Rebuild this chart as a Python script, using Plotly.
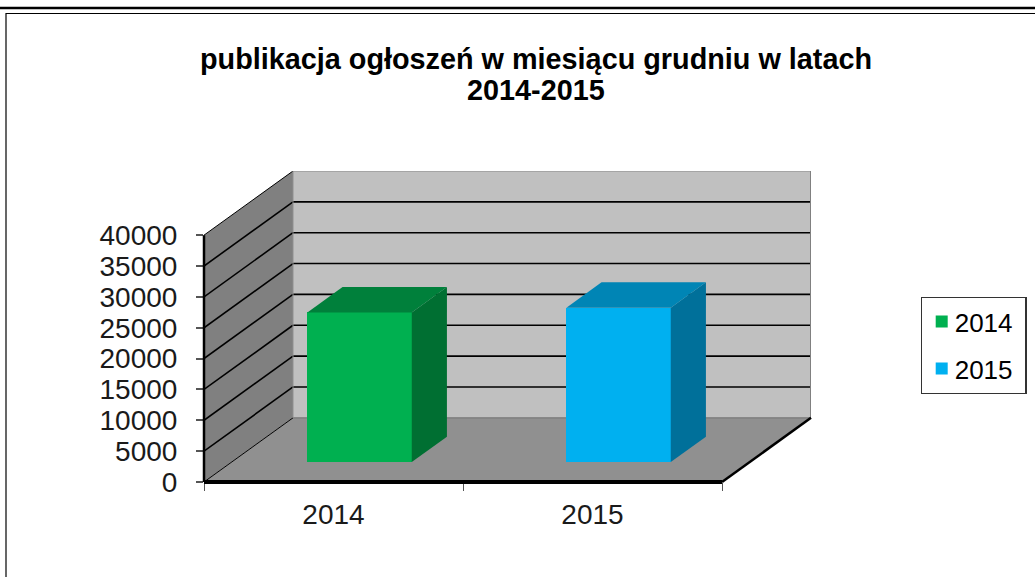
import plotly.graph_objects as go

years = ["2014", "2015"]
values = [24260, 25020]
front_colors = ["#00B050", "#00B0F0"]
top_colors = ["#00803B", "#0085B5"]
side_colors = ["#006F32", "#00709A"]
y_ticks = [0, 5000, 10000, 15000, 20000, 25000, 30000, 35000, 40000]
title_line_1 = "publikacja ogłoszeń w miesiącu grudniu w latach"
title_line_2 = "2014-2015"

W, H = 1035, 577
ML, MR, MT, MB = 204, 224, 171, 95
PW, PH = W - ML - MR, H - MT - MB
Y_TOP = 40000
DEPTH_Y = 10400
CAT_PX = 259
X_MAX = PW / CAT_PX
N = len(years)
DEPTH_X = X_MAX - N
BAR_W = 0.403
F0, F1 = 0.31, 0.705
F0_X, F1_X = 0.293, 0.688
FONT = "Liberation Sans, Arial, sans-serif"


def px(x):
    return (x - ML) / PW


def py(y):
    return 1 - (y - MT) / PH


fig = go.Figure()
shapes = []


def poly(points, fill):
    path = "M" + " L".join(f"{a},{b}" for a, b in points) + " Z"
    shapes.append(dict(type="path", path=path, fillcolor=fill, line=dict(width=0), layer="below"))


def seg(a, b, color="#000000", width=2):
    shapes.append(dict(type="line", x0=a[0], y0=a[1], x1=b[0], y1=b[1],
                       line=dict(color=color, width=width), layer="below"))


def heavy(a, b, width):
    # paper-referenced so the stroke is not clipped at the plot area
    shapes.append(dict(type="line", xref="paper", yref="paper",
                       x0=a[0] / X_MAX, y0=a[1] / (Y_TOP + DEPTH_Y),
                       x1=b[0] / X_MAX, y1=b[1] / (Y_TOP + DEPTH_Y),
                       line=dict(color="#000000", width=width)))


poly([(DEPTH_X, DEPTH_Y), (N + DEPTH_X, DEPTH_Y), (N + DEPTH_X, Y_TOP + DEPTH_Y), (DEPTH_X, Y_TOP + DEPTH_Y)], "#C0C0C0")
poly([(0, 0), (DEPTH_X, DEPTH_Y), (DEPTH_X, Y_TOP + DEPTH_Y), (0, Y_TOP)], "#808080")
poly([(0, 0), (N, 0), (N + DEPTH_X, DEPTH_Y), (DEPTH_X, DEPTH_Y)], "#909090")

for t in y_ticks[1:-1]:
    seg((0, t), (DEPTH_X, t + DEPTH_Y), width=1.6)
    seg((DEPTH_X, t + DEPTH_Y), (N + DEPTH_X, t + DEPTH_Y), width=1.6)
seg((0, Y_TOP), (DEPTH_X, Y_TOP + DEPTH_Y), width=1)
seg((DEPTH_X, Y_TOP + DEPTH_Y), (N + DEPTH_X, Y_TOP + DEPTH_Y), color="#8a8a8a", width=1)
seg((0, 0), (DEPTH_X, DEPTH_Y), width=1)
seg((DEPTH_X, DEPTH_Y), (N + DEPTH_X, DEPTH_Y), color="#6e6e6e", width=1)
seg((N + DEPTH_X, DEPTH_Y), (N + DEPTH_X, Y_TOP + DEPTH_Y), color="#808080", width=2)
seg((DEPTH_X, DEPTH_Y), (DEPTH_X, Y_TOP + DEPTH_Y), color="#8f8f8f", width=1)

for i, (year, v) in enumerate(zip(years, values)):
    cx = i + 0.5 + F0_X * DEPTH_X
    base = F0 * DEPTH_Y
    dx = (F1_X - F0_X) * DEPTH_X
    dy = (F1 - F0) * DEPTH_Y
    x0, x1 = cx - BAR_W / 2, cx + BAR_W / 2
    fig.add_trace(go.Scatter(
        x=[x1, x1 + dx, x1 + dx, x1, x1],
        y=[base, base + dy, base + v + dy, base + v, base],
        mode="lines", line=dict(width=0), fill="toself", fillcolor=side_colors[i],
        showlegend=False, hoverinfo="skip"))
    fig.add_trace(go.Scatter(
        x=[x0, x1, x1 + dx, x0 + dx, x0],
        y=[base + v, base + v, base + v + dy, base + v + dy, base + v],
        mode="lines", line=dict(width=0), fill="toself", fillcolor=top_colors[i],
        showlegend=False, hoverinfo="skip"))
    fig.add_trace(go.Bar(
        x=[cx], y=[v], base=[base], width=[BAR_W], name=year, legendgroup=year,
        marker=dict(color=front_colors[i], line=dict(width=0))))

heavy((0, 0), (N, 0), 4)
heavy((0, 0), (0, Y_TOP), 2.5)
heavy((N, 0), (N + DEPTH_X, DEPTH_Y), 2.5)

# page frame
for (x0, y0, x1, y1, w) in [(0, 8, W, 8, 2.5), (6, 13.5, W, 13.5, 1.2), (6, 13, 6, H, 1.2)]:
    shapes.append(dict(type="line", xref="paper", yref="paper",
                       x0=px(x0), y0=py(y0), x1=px(x1), y1=py(y1),
                       line=dict(color="#000000", width=w)))

fig.update_layout(
    width=W, height=H,
    margin=dict(l=ML, r=MR, t=MT, b=MB, pad=0, autoexpand=False),
    paper_bgcolor="#FFFFFF", plot_bgcolor="rgba(0,0,0,0)",
    font=dict(family=FONT, color="#000000"),
    title=dict(text=f"<b>{title_line_1}</b>", x=536 / W, xanchor="center",
               y=1 - 49 / H, yanchor="top", font=dict(family=FONT, size=28.8, color="#000000")),
    annotations=[dict(text=f"<b>{title_line_2}</b>", xref="paper", yref="paper",
                      x=px(536), y=py(90), xanchor="center", yanchor="middle", showarrow=False,
                      font=dict(family=FONT, size=28.8, color="#000000"))],
    shapes=shapes,
    bargap=0,
    xaxis=dict(range=[0, X_MAX], showgrid=False, zeroline=False, showline=False,
               tickmode="array", tickvals=[i + 0.5 for i in range(N)], ticktext=years, ticks="",
               tickfont=dict(size=28, family=FONT, color="#1a1a1a"), ticklabelstandoff=13,
               minor=dict(tickmode="array", tickvals=list(range(N + 1)), ticks="outside",
                          ticklen=8, tickwidth=1, tickcolor="#555555", showgrid=False)),
    yaxis=dict(range=[0, Y_TOP + DEPTH_Y], showgrid=False, zeroline=False, showline=False,
               tickmode="array", tickvals=y_ticks, ticktext=[str(t) for t in y_ticks],
               ticks="outside", ticklen=7, tickwidth=1.5, tickcolor="#555555",
               tickfont=dict(size=28, family=FONT, color="#1a1a1a"), ticklabelstandoff=13),
    legend=dict(x=px(920.5), xanchor="left", y=py(297), yanchor="top",
                bgcolor="#FFFFFF", bordercolor="#333333", borderwidth=1.2,
                font=dict(size=26, family=FONT, color="#000000"),
                tracegroupgap=10, itemclick=False, itemdoubleclick=False),
    hovermode=False,
)

post = """
document.body.style.margin='0';
function nudge(){document.querySelectorAll('.legendtext').forEach(function(t){t.setAttribute('x','33');});}
nudge();setTimeout(nudge,50);
"""
fig.write_html("out.html", post_script=post, config=dict(displayModeBar=False))
